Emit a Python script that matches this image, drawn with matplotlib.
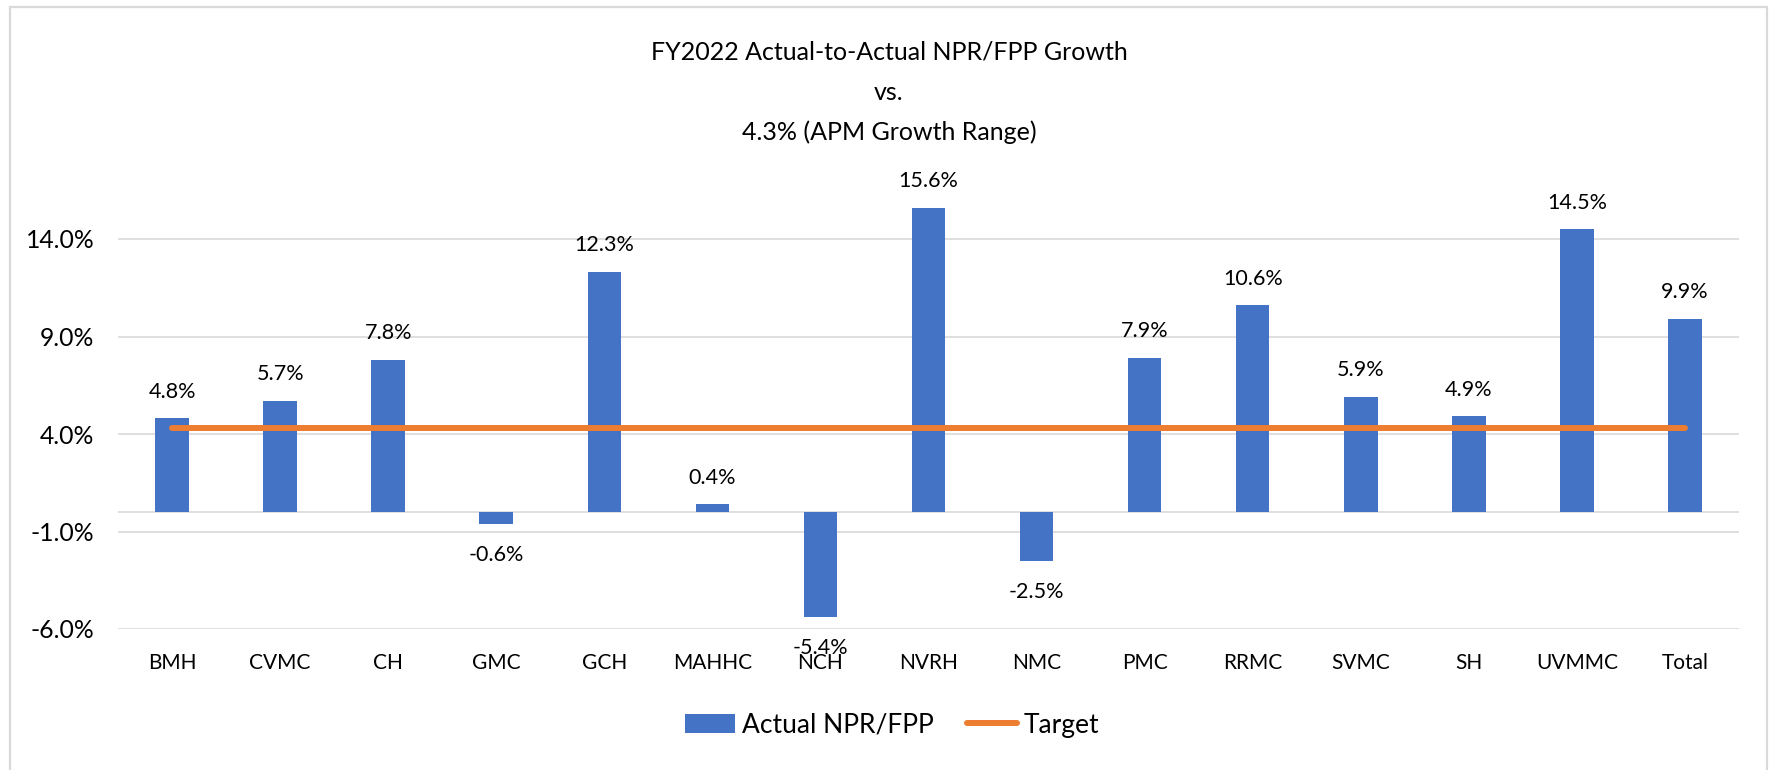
import matplotlib
matplotlib.use("Agg")
import matplotlib.pyplot as plt
from matplotlib.patches import Rectangle
import numpy as np

categories = ["BMH", "CVMC", "CH", "GMC", "GCH", "MAHHC", "NCH", "NVRH", "NMC",
              "PMC", "RRMC", "SVMC", "SH", "UVMMC", "Total"]
actual = [4.8, 5.7, 7.8, -0.6, 12.3, 0.4, -5.4, 15.6, -2.5, 7.9, 10.6, 5.9, 4.9, 14.5, 9.9]
target = [4.3] * len(categories)
yticks = [-6.0, -1.0, 4.0, 9.0, 14.0]
title_lines = ["FY2022 Actual-to-Actual NPR/FPP Growth", "vs.", "4.3% (APM Growth Range)"]

plt.rcParams['font.family'] = ['Lato', 'DejaVu Sans']

W, H = 1771, 770
fig = plt.figure(figsize=(W / 100, H / 100), dpi=100)
BLUE = "#4472C4"
ORANGE = "#ED7D31"
GRID = "#D9D9D9"

left, right = 118, 1739
ymin, ymax = -6.0, 17.0
y0_px = 512
bottom_px = 629
ppu = (bottom_px - y0_px) / 6.0
top_px = y0_px - ymax * ppu
ax = fig.add_axes([left / W, 1 - bottom_px / H, (right - left) / W, (bottom_px - top_px) / H])

x = np.arange(len(categories))
bars = ax.bar(x, actual, width=0.31, color=BLUE, zorder=3, label="Actual NPR/FPP")
line, = ax.plot(x, target, color=ORANGE, lw=4.3, solid_capstyle='round', zorder=4, label="Target")

for xi, v in zip(x, actual):
    if v >= 0:
        ax.annotate(f"{v:.1f}%", (xi, v), xytext=(0, 12), textcoords='offset points',
                    ha='center', va='bottom', fontsize=15.5, color='#000000', clip_on=False)
    else:
        ax.annotate(f"{v:.1f}%", (xi, v), xytext=(0, -15), textcoords='offset points',
                    ha='center', va='top', fontsize=15.5, color='#000000', clip_on=False)

ax.set_xlim(-0.5, len(categories) - 0.5)
ax.set_ylim(ymin, ymax)
ax.set_yticks(yticks)
ax.set_yticklabels([f"{t:.1f}%" for t in yticks], fontsize=17.8)
ax.set_xticks(x)
ax.set_xticklabels(categories, fontsize=15)
ax.tick_params(axis='both', length=0)
ax.tick_params(axis='y', pad=17)
ax.tick_params(axis='x', pad=17)
for s in ax.spines.values():
    s.set_visible(False)
for t in yticks:
    ax.axhline(t, color=GRID, lw=1.2, zorder=1)
ax.axhline(0, color=GRID, lw=1.2, zorder=2)

baselines = [60, 100, 140]
for tl, b in zip(title_lines, baselines):
    fig.text(889 / W, 1 - b / H, tl, ha='center', va='baseline', fontsize=18, color='#000000')

fig.legend([bars, line], ["Actual NPR/FPP", "Target"], loc='center',
           bbox_to_anchor=(892 / W, 1 - 725 / H), ncol=2, frameon=False,
           fontsize=19, handlelength=1.9, handleheight=0.76, handletextpad=0.25, columnspacing=1.25)

fig.patches.append(Rectangle((10 / W, -0.05), (1767 - 10) / W, 1.05 - 7 / H,
                             transform=fig.transFigure, fill=False, edgecolor=GRID, lw=1.6))

fig.savefig("out.png", dpi=100, facecolor='white')
